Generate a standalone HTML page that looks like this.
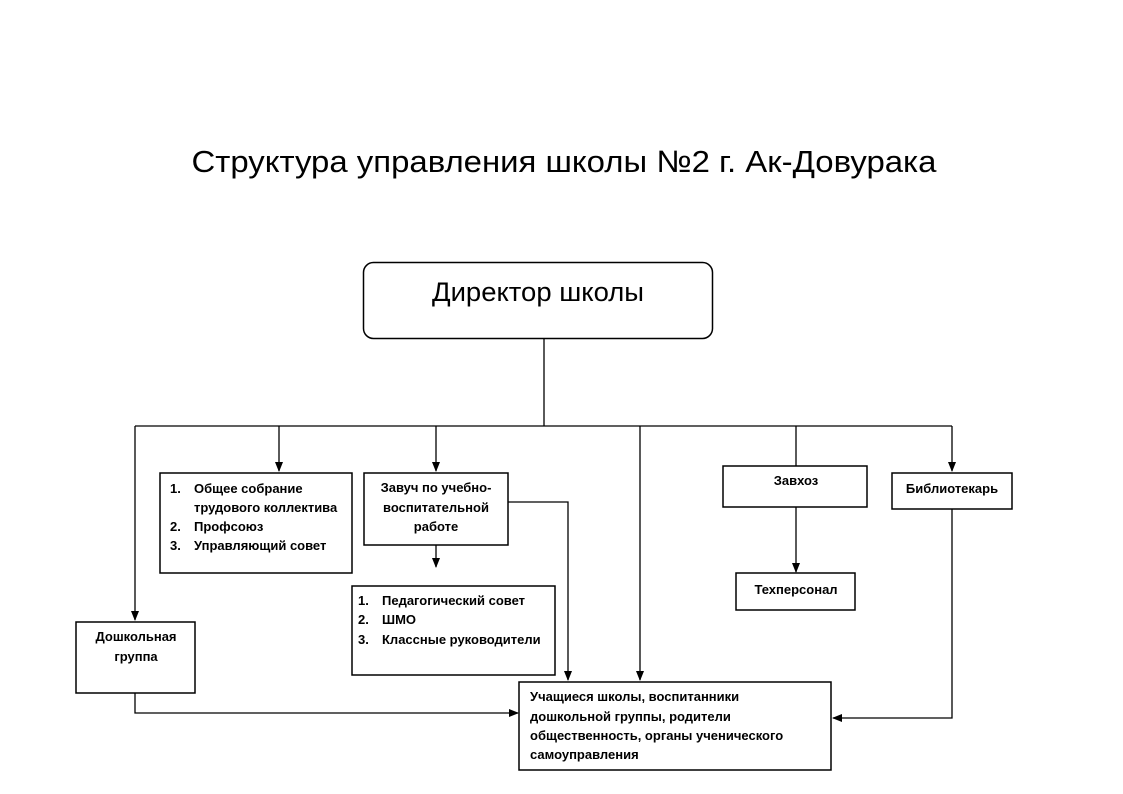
<!DOCTYPE html>
<html><head><meta charset="utf-8"><style>
html,body{margin:0;padding:0;background:#fff;}
svg{display:block;}
text{font-family:"Liberation Sans","DejaVu Sans",sans-serif;fill:#000;}
.b{font-weight:bold;font-size:13px;}
</style></head><body>
<svg width="1123" height="794" viewBox="0 0 1123 794" xmlns="http://www.w3.org/2000/svg">
<defs><marker id="a" markerWidth="10" markerHeight="10" refX="9" refY="5" orient="auto" markerUnits="userSpaceOnUse"><path d="M0,1 L10,5 L0,9 Z" fill="#000"/></marker></defs>
<text x="564" y="172" font-size="31" text-anchor="middle" textLength="745" lengthAdjust="spacingAndGlyphs">Структура управления школы №2 г. Ак-Довурака</text>
<rect x="363.5" y="262.5" width="349" height="76" rx="10" fill="#fff" stroke="#000" stroke-width="1.5"/>
<text x="538" y="301" font-size="27" text-anchor="middle" textLength="212" lengthAdjust="spacingAndGlyphs">Директор школы</text>
<g stroke="#000" stroke-width="1.3" fill="none">
<line x1="544" y1="339" x2="544" y2="426"/>
<line x1="135" y1="426" x2="952" y2="426"/>
<line x1="135" y1="426" x2="135" y2="620" marker-end="url(#a)"/>
<line x1="279" y1="426" x2="279" y2="471" marker-end="url(#a)"/>
<line x1="436" y1="426" x2="436" y2="471" marker-end="url(#a)"/>
<line x1="640" y1="426" x2="640" y2="680" marker-end="url(#a)"/>
<line x1="796" y1="426" x2="796" y2="466"/>
<line x1="952" y1="426" x2="952" y2="471" marker-end="url(#a)"/>
<polyline points="508,502 568,502 568,680" marker-end="url(#a)"/>
<line x1="436" y1="545" x2="436" y2="567" marker-end="url(#a)"/>
<polyline points="135,693 135,713 518,713" marker-end="url(#a)"/>
<line x1="796" y1="507" x2="796" y2="572" marker-end="url(#a)"/>
<polyline points="952,509 952,718 833,718" marker-end="url(#a)"/>
</g>
<g fill="#fff" stroke="#000" stroke-width="1.5">
<rect x="160" y="473" width="192" height="100"/>
<rect x="364" y="473" width="144" height="72"/>
<rect x="352" y="586" width="203" height="89"/>
<rect x="76" y="622" width="119" height="71"/>
<rect x="723" y="466" width="144" height="41"/>
<rect x="736" y="573" width="119" height="37"/>
<rect x="892" y="473" width="120" height="36"/>
<rect x="519" y="682" width="312" height="88"/>
</g>
<g class="b">
<text x="170" y="493">1.</text><text x="194" y="493">Общее собрание</text>
<text x="194" y="512">трудового коллектива</text>
<text x="170" y="531">2.</text><text x="194" y="531">Профсоюз</text>
<text x="170" y="550">3.</text><text x="194" y="550">Управляющий совет</text>
<text x="436" y="492" text-anchor="middle">Завуч по учебно-</text>
<text x="436" y="512" text-anchor="middle">воспитательной</text>
<text x="436" y="531" text-anchor="middle">работе</text>
<text x="358" y="605">1.</text><text x="382" y="605">Педагогический совет</text>
<text x="358" y="624">2.</text><text x="382" y="624">ШМО</text>
<text x="358" y="644">3.</text><text x="382" y="644">Классные руководители</text>
<text x="136" y="641" text-anchor="middle">Дошкольная</text>
<text x="136" y="661" text-anchor="middle">группа</text>
<text x="796" y="485" text-anchor="middle">Завхоз</text>
<text x="796" y="594" text-anchor="middle">Техперсонал</text>
<text x="952" y="493" text-anchor="middle">Библиотекарь</text>
<text x="530" y="701">Учащиеся школы, воспитанники</text>
<text x="530" y="721">дошкольной группы, родители</text>
<text x="530" y="740">общественность, органы ученического</text>
<text x="530" y="759">самоуправления</text>
</g>
</svg>
</body></html>
